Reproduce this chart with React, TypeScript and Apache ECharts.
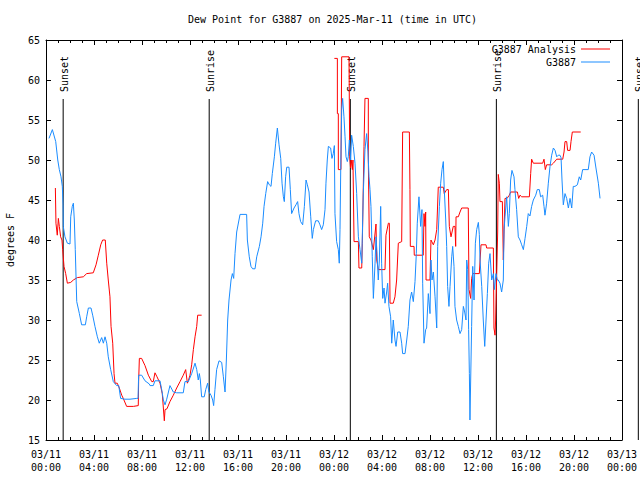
import React, { useEffect, useRef } from 'react';
import * as echarts from 'echarts';

const TITLE = 'Dew Point for G3887 on 2025-Mar-11 (time in UTC)';
const Y_NAME = 'degrees F';
const NAME_ANALYSIS = 'G3887 Analysis';
const NAME_OBS = 'G3887';

// x axis: hours since 2025-03-11 00:00 UTC
const xTickLabels = [
  '03/11\n00:00', '03/11\n04:00', '03/11\n08:00', '03/11\n12:00',
  '03/11\n16:00', '03/11\n20:00', '03/12\n00:00', '03/12\n04:00',
  '03/12\n08:00', '03/12\n12:00', '03/12\n16:00', '03/12\n20:00', '03/13\n00:00',
];
const X_MIN = 0;
const X_MAX = 48;
const X_STEP = 4;
const Y_MIN = 15;
const Y_MAX = 65;
const Y_STEP = 5;

const eventHours = [1.43, 13.6, 25.36, 37.53, 49.36];
const eventLabels = ['Sunset', 'Sunrise', 'Sunset', 'Sunrise', 'Sunset'];

// G3887 observations [hour, degF]
const obsPart1 = [
  [0.25, 52.7], [0.53, 53.8], [0.81, 52.3], [0.98, 50.0], [1.11, 48.8], [1.25, 47.9], [1.36, 46.7], [1.42, 44.4],
  [1.44, 41.7], [1.58, 40.4], [1.78, 39.6], [2.0, 39.5], [2.06, 42.9], [2.19, 44.2], [2.28, 44.6], [2.36, 42.5],
  [2.44, 38.8], [2.56, 32.3], [2.78, 30.8], [2.97, 29.4], [3.28, 29.4], [3.39, 30.4], [3.53, 31.5], [3.75, 31.5],
  [3.89, 30.6], [4.08, 29.2], [4.28, 27.9], [4.44, 27.1], [4.64, 27.8], [4.78, 27.1], [4.92, 27.9], [5.06, 27.1],
  [5.19, 25.4], [5.39, 23.8], [5.61, 22.3], [5.89, 21.8], [6.06, 21.8], [6.22, 20.2], [6.58, 20.1], [7.0, 20.1],
  [7.56, 20.2], [7.67, 20.2], [7.72, 23.1], [7.97, 23.1], [8.25, 22.4], [8.61, 22.0], [8.67, 21.8], [8.94, 21.8],
  [9.08, 22.4], [9.5, 22.4], [9.64, 21.3], [9.78, 20.0], [9.92, 19.4], [10.06, 20.1], [10.33, 21.8], [10.61, 21.0],
  [10.89, 20.9], [11.44, 20.9], [11.58, 22.3], [11.86, 22.3], [12.14, 23.3], [12.42, 24.6], [12.56, 23.8],
  [12.69, 22.5], [12.78, 23.3], [12.86, 22.5], [12.97, 20.4],
];
const obsPart2 = [
  [13.19, 20.4], [13.31, 21.3], [13.47, 22.1], [13.58, 21.0], [13.75, 20.6], [13.89, 20.0], [13.97, 19.3],
  [14.08, 21.3], [14.22, 23.8], [14.42, 24.9], [14.64, 24.7], [14.78, 22.9], [14.92, 21.0], [15.03, 25.0],
  [15.14, 30.0], [15.25, 32.5], [15.42, 35.0], [15.53, 35.8], [15.64, 35.2], [15.75, 38.3], [15.89, 41.0],
  [16.17, 43.2], [16.72, 43.2], [16.78, 40.0], [16.94, 37.9], [17.08, 36.7], [17.22, 36.4], [17.42, 36.4],
  [17.56, 37.9], [17.78, 39.2], [17.92, 40.4], [18.06, 42.1], [18.17, 44.2], [18.31, 45.8], [18.47, 47.3],
  [18.61, 46.9], [18.75, 46.7], [18.86, 48.3], [19.03, 50.4], [19.14, 52.1], [19.28, 54.0], [19.42, 51.9],
  [19.56, 50.2], [19.67, 47.1], [19.78, 45.4], [19.86, 44.8], [19.97, 47.9], [20.06, 49.1], [20.25, 49.1],
  [20.36, 46.3], [20.47, 43.3], [20.67, 44.0], [20.83, 44.4], [20.97, 44.8], [21.08, 43.3], [21.22, 42.3],
  [21.39, 41.9], [21.53, 44.2], [21.67, 47.5], [21.78, 46.9], [21.92, 46.0], [22.06, 42.9], [22.19, 40.2],
  [22.28, 41.3], [22.47, 42.4], [22.69, 42.4], [22.83, 41.9], [22.97, 41.3], [23.11, 41.9], [23.25, 43.8],
  [23.33, 47.1], [23.44, 50.0], [23.53, 51.7], [23.72, 51.5], [23.83, 50.2], [23.94, 50.8],
];
const obsPart3 = [
  [24.03, 51.8], [24.08, 43.3], [24.22, 39.8], [24.36, 38.8], [24.44, 37.1], [24.5, 41.3], [24.56, 48.8],
  [24.64, 56.3], [24.72, 57.7], [24.83, 55.4], [24.92, 52.9], [25.0, 50.4], [25.11, 49.8], [25.19, 50.4],
  [25.28, 52.5], [25.39, 50.0], [25.47, 53.1], [25.61, 51.7], [25.75, 49.6], [25.89, 45.8], [26.03, 40.4],
  [26.17, 38.8], [26.31, 37.1], [26.44, 45.8], [26.58, 51.3], [26.72, 53.3], [26.83, 51.0], [26.92, 47.9],
  [27.0, 46.3], [27.08, 44.2], [27.19, 37.9], [27.28, 32.7], [27.42, 37.1], [27.5, 40.4], [27.58, 38.5],
  [27.69, 35.0], [27.78, 37.5], [27.89, 44.2], [27.97, 37.1], [28.06, 32.7], [28.17, 34.0], [28.25, 32.1],
  [28.39, 33.5], [28.47, 34.6], [28.58, 31.7], [28.72, 30.4], [28.81, 27.1], [28.94, 30.0], [29.08, 27.5],
  [29.17, 26.7], [29.31, 28.5], [29.5, 28.5], [29.64, 27.1], [29.72, 25.8], [29.92, 25.8], [30.06, 27.5],
  [30.19, 29.2], [30.33, 32.5], [30.47, 33.5], [30.61, 32.3], [30.75, 34.8], [30.86, 38.3], [30.94, 42.1],
  [31.08, 45.4], [31.22, 41.7], [31.33, 43.8], [31.39, 34.6], [31.5, 27.1], [31.64, 28.8], [31.72, 29.0],
  [31.86, 33.3], [32.0, 30.8], [32.08, 37.5], [32.17, 35.0], [32.28, 36.0], [32.42, 32.9], [32.56, 29.0],
  [32.64, 39.2], [32.78, 44.2], [32.89, 47.1], [33.0, 48.8], [33.11, 49.8], [33.19, 46.3], [33.31, 42.5],
  [33.39, 39.2], [33.47, 34.2], [33.58, 31.7], [33.67, 34.2], [33.81, 37.9], [33.89, 39.2], [34.0, 36.7],
  [34.08, 31.7], [34.22, 30.0], [34.36, 29.2], [34.5, 28.3], [34.64, 28.8], [34.78, 31.7], [34.89, 31.0],
  [35.0, 30.0], [35.06, 37.5], [35.14, 36.3], [35.22, 28.8], [35.28, 23.3], [35.33, 17.5], [35.39, 22.5],
  [35.47, 29.2], [35.56, 36.7], [35.67, 32.5], [35.78, 39.6], [35.89, 41.3], [36.03, 42.2], [36.11, 40.7],
  [36.17, 37.5], [36.31, 34.2], [36.44, 30.0], [36.56, 26.7], [36.67, 30.0], [36.78, 33.3], [36.89, 37.1],
  [37.0, 38.3], [37.14, 35.0], [37.28, 35.8], [37.36, 33.8], [37.5, 35.8], [37.61, 35.0],
];
const obsPart4 = [
  [37.69, 35.0], [37.83, 34.6], [37.97, 33.5], [38.11, 35.0], [38.17, 41.3], [38.25, 42.9], [38.39, 45.4],
  [38.53, 41.7], [38.61, 43.3], [38.72, 47.5], [38.83, 48.7], [39.0, 47.9], [39.08, 46.3], [39.22, 43.8],
  [39.36, 40.4], [39.5, 40.0], [39.64, 39.4], [39.78, 38.8], [39.92, 40.2], [40.06, 41.7], [40.19, 43.3],
  [40.33, 43.0], [40.47, 44.2], [40.61, 45.0], [40.81, 45.6], [40.94, 46.3], [41.11, 46.3], [41.22, 45.4],
  [41.39, 45.6], [41.5, 44.2], [41.58, 43.1], [41.72, 44.6], [41.86, 47.1], [42.0, 49.2], [42.14, 50.6],
  [42.28, 51.5], [42.42, 51.2], [42.56, 50.4], [42.69, 50.6], [42.83, 50.6], [42.92, 50.3], [43.0, 47.5],
  [43.11, 44.4], [43.25, 45.8], [43.39, 45.2], [43.53, 44.0], [43.67, 45.2], [43.81, 44.0], [43.94, 46.7],
  [44.08, 46.7], [44.28, 46.9], [44.44, 47.9], [44.56, 47.5], [44.72, 48.8], [45.19, 48.8], [45.33, 50.4],
  [45.47, 51.0], [45.67, 50.6], [45.83, 49.0], [46.03, 47.1], [46.17, 45.2],
];

// G3887 Analysis [hour, degF]
const analysisPart1 = [
  [0.78, 46.5], [0.83, 42.1], [0.94, 40.6], [1.03, 42.7], [1.11, 41.7], [1.22, 40.4], [1.33, 40.0], [1.39, 38.8],
  [1.5, 36.7], [1.64, 35.8], [1.78, 34.6], [2.06, 34.7], [2.28, 35.0], [2.61, 35.3], [3.11, 35.4], [3.39, 35.8],
  [3.94, 35.9], [4.17, 36.9], [4.36, 38.1], [4.56, 39.4], [4.72, 40.0], [4.94, 40.0], [5.06, 37.1], [5.19, 35.0],
  [5.33, 32.9], [5.42, 29.2], [5.56, 27.1], [5.67, 23.3], [5.75, 22.1], [5.94, 22.1], [6.11, 21.5], [6.31, 20.6],
  [6.44, 20.2], [6.72, 19.2], [7.28, 19.2], [7.69, 19.3], [7.72, 22.3], [7.78, 25.2], [7.97, 25.2], [8.25, 24.3],
  [8.53, 23.1], [8.81, 22.3], [8.94, 22.3], [9.08, 23.4], [9.25, 22.9], [9.5, 22.1], [9.69, 20.8], [9.78, 19.0],
  [9.86, 17.4], [9.92, 18.8], [10.08, 18.9], [10.33, 19.8], [10.61, 20.6], [10.89, 21.5], [11.17, 22.3],
  [11.44, 23.1], [11.64, 23.8], [11.78, 22.1], [11.86, 22.4], [12.0, 23.1], [12.14, 24.4], [12.28, 26.3],
  [12.42, 27.9], [12.56, 29.2], [12.64, 30.6], [12.97, 30.6],
];
const analysisPart2 = [
  [24.03, 62.7], [24.28, 62.7], [24.28, 55.8], [24.36, 55.8], [24.36, 48.8], [24.58, 48.8], [24.64, 62.9],
  [25.25, 62.9], [25.31, 50.4], [25.38, 49.0], [25.44, 50.0], [25.53, 48.8], [25.58, 50.0], [25.67, 39.8],
  [26.03, 39.8], [26.08, 36.5], [26.31, 36.5], [26.36, 39.6], [26.5, 51.7], [26.58, 57.7], [26.86, 57.7],
  [26.86, 50.0], [26.94, 40.4], [27.08, 40.0], [27.28, 38.8], [27.5, 42.0], [27.56, 37.5], [27.69, 36.3],
  [28.25, 36.3], [28.33, 40.6], [28.53, 42.1], [28.61, 42.1], [28.67, 32.1], [28.94, 32.1], [29.08, 32.9],
  [29.22, 35.0], [29.36, 39.6], [29.64, 39.8], [29.72, 53.5], [30.28, 53.5], [30.33, 46.3], [30.36, 39.2],
  [30.67, 39.2], [30.69, 38.1], [31.44, 38.1], [31.5, 43.3], [31.58, 41.7], [31.64, 43.5], [31.67, 35.0],
  [32.0, 35.0], [32.08, 40.0], [32.28, 39.4], [32.42, 40.0], [32.56, 41.3], [32.69, 46.6], [33.11, 46.6],
  [33.19, 45.8], [33.39, 46.3], [33.53, 46.3], [33.61, 41.7], [33.75, 40.4], [33.94, 41.7], [34.08, 41.7],
  [34.14, 39.2], [34.17, 42.9], [34.36, 42.9], [34.5, 43.5], [34.64, 44.0], [35.19, 44.0], [35.25, 33.8],
  [35.39, 32.7], [35.47, 35.2], [35.56, 35.8], [36.11, 35.8], [36.25, 39.4], [36.67, 39.4], [36.72, 39.0],
  [37.28, 39.0], [37.33, 29.0], [37.42, 28.1], [37.47, 30.0], [37.64, 41.0], [37.69, 48.2], [37.78, 47.1],
  [37.83, 44.8], [38.03, 44.8], [38.11, 37.5], [38.17, 41.0], [38.25, 45.2], [38.42, 45.2], [38.61, 45.6],
  [38.72, 46.0], [39.28, 46.0], [39.39, 45.2], [39.5, 45.6], [39.64, 45.4], [40.28, 45.4], [40.39, 48.3],
  [40.47, 50.1], [40.61, 49.6], [41.39, 49.6], [41.5, 50.1], [41.61, 48.8], [41.72, 49.4], [42.14, 49.4],
  [42.28, 49.6], [42.56, 50.1], [43.06, 50.1], [43.17, 51.0], [43.25, 52.3], [43.39, 52.3], [43.47, 51.2],
  [43.67, 51.2], [43.75, 52.3], [43.86, 53.5], [44.56, 53.5],
];

const FONT = '"DejaVu Sans Mono", monospace';
const RED = '#ff0000';
const BLUE = '#1a8cff';

export default function App() {
  const ref = useRef<HTMLDivElement>(null);

  useEffect(() => {
    if (!ref.current) return;
    const chart = echarts.init(ref.current, null, { renderer: 'svg' });

    const axisLine = { show: true, onZero: false, lineStyle: { color: '#000', width: 1 } };
    const baseX: any = {
      type: 'value',
      min: X_MIN,
      max: X_MAX,
      interval: X_STEP,
      splitLine: { show: false },
      axisLine,
      axisTick: { show: true, inside: true, length: 5, lineStyle: { color: '#000' } },
      minorTick: { show: true, splitNumber: 4, length: 3, lineStyle: { color: '#000' } },
    };
    const baseY: any = {
      type: 'value',
      min: Y_MIN,
      max: Y_MAX,
      interval: Y_STEP,
      splitLine: { show: false },
      axisLine,
      axisTick: { show: true, inside: true, length: 5, lineStyle: { color: '#000' } },
    };

    const gap = [(analysisPart1[analysisPart1.length - 1][0] + analysisPart2[0][0]) / 2, '-'];

    const legendBase: any = {
      right: 30,
      padding: 0,
      align: 'right',
      orient: 'vertical',
      icon: 'rect',
      itemWidth: 29,
      itemHeight: 1,
      selectedMode: false,
      textStyle: { fontFamily: FONT, fontSize: 10, color: '#000' },
    };

    chart.setOption({
      animation: false,
      backgroundColor: '#fff',
      textStyle: { fontFamily: FONT, fontSize: 10, color: '#000' },
      title: {
        text: TITLE,
        left: 188,
        top: 14,
        padding: 0,
        textStyle: { fontFamily: FONT, fontSize: 10, fontWeight: 'normal', color: '#000' },
      },
      legend: [
        { ...legendBase, data: [NAME_ANALYSIS], top: 44 },
        { ...legendBase, data: [NAME_OBS], top: 57 },
      ],
      grid: { left: 46, right: 18, top: 40, bottom: 40, containLabel: false, outerBoundsMode: 'none' },
      xAxis: [
        {
          ...baseX,
          position: 'bottom',
          axisLabel: {
            show: true,
            margin: 8,
            lineHeight: 13,
            fontFamily: FONT,
            fontSize: 10,
            color: '#000',
            formatter: (v: number) => xTickLabels[Math.round((v - X_MIN) / X_STEP)] ?? '',
          },
        },
        { ...baseX, position: 'top', axisLabel: { show: false } },
      ],
      yAxis: [
        {
          ...baseY,
          position: 'left',
          name: Y_NAME,
          nameLocation: 'middle',
          nameGap: 31,
          nameRotate: 90,
          nameTextStyle: { fontFamily: FONT, fontSize: 10, color: '#000' },
          axisLabel: { show: true, margin: 6, fontFamily: FONT, fontSize: 10, color: '#000' },
        },
        { ...baseY, position: 'right', axisLabel: { show: false } },
      ],
      series: [
        {
          name: NAME_ANALYSIS,
          type: 'line',
          xAxisIndex: 0,
          yAxisIndex: 0,
          showSymbol: false,
          symbol: 'none',
          connectNulls: false,
          color: RED,
          lineStyle: { color: RED, width: 1 },
          itemStyle: { color: RED },
          data: [...analysisPart1, gap, ...analysisPart2],
        },
        {
          name: NAME_OBS,
          type: 'line',
          xAxisIndex: 0,
          yAxisIndex: 0,
          showSymbol: false,
          symbol: 'none',
          color: BLUE,
          lineStyle: { color: BLUE, width: 1 },
          itemStyle: { color: BLUE },
          data: [...obsPart1, ...obsPart2, ...obsPart3, ...obsPart4],
        },
        {
          name: 'events',
          type: 'custom',
          coordinateSystem: 'cartesian2d',
          xAxisIndex: 0,
          yAxisIndex: 0,
          clip: false,
          silent: true,
          data: eventHours.map((h) => [h, Y_MIN]),
          renderItem: (params: any, api: any) => {
            const h = api.value(0);
            const bottom = api.coord([h, Y_MIN]);
            const gridTop = api.coord([h, Y_MAX])[1];
            return {
              type: 'group',
              children: [
                {
                  type: 'line',
                  shape: { x1: bottom[0], y1: gridTop + 59, x2: bottom[0], y2: bottom[1] },
                  style: { stroke: '#000', lineWidth: 1 },
                },
                {
                  type: 'text',
                  x: bottom[0] + 1.5,
                  y: gridTop + 52,
                  rotation: Math.PI / 2,
                  style: {
                    text: eventLabels[params.dataIndex],
                    fill: '#000',
                    font: '10px ' + FONT,
                    textAlign: 'left',
                    textVerticalAlign: 'middle',
                  },
                },
              ],
            };
          },
        },
      ],
    });

    return () => chart.dispose();
  }, []);

  return (
    <div
      ref={ref}
      style={{ position: 'fixed', left: 0, top: 0, width: 640, height: 480, background: '#fff' }}
    />
  );
}
